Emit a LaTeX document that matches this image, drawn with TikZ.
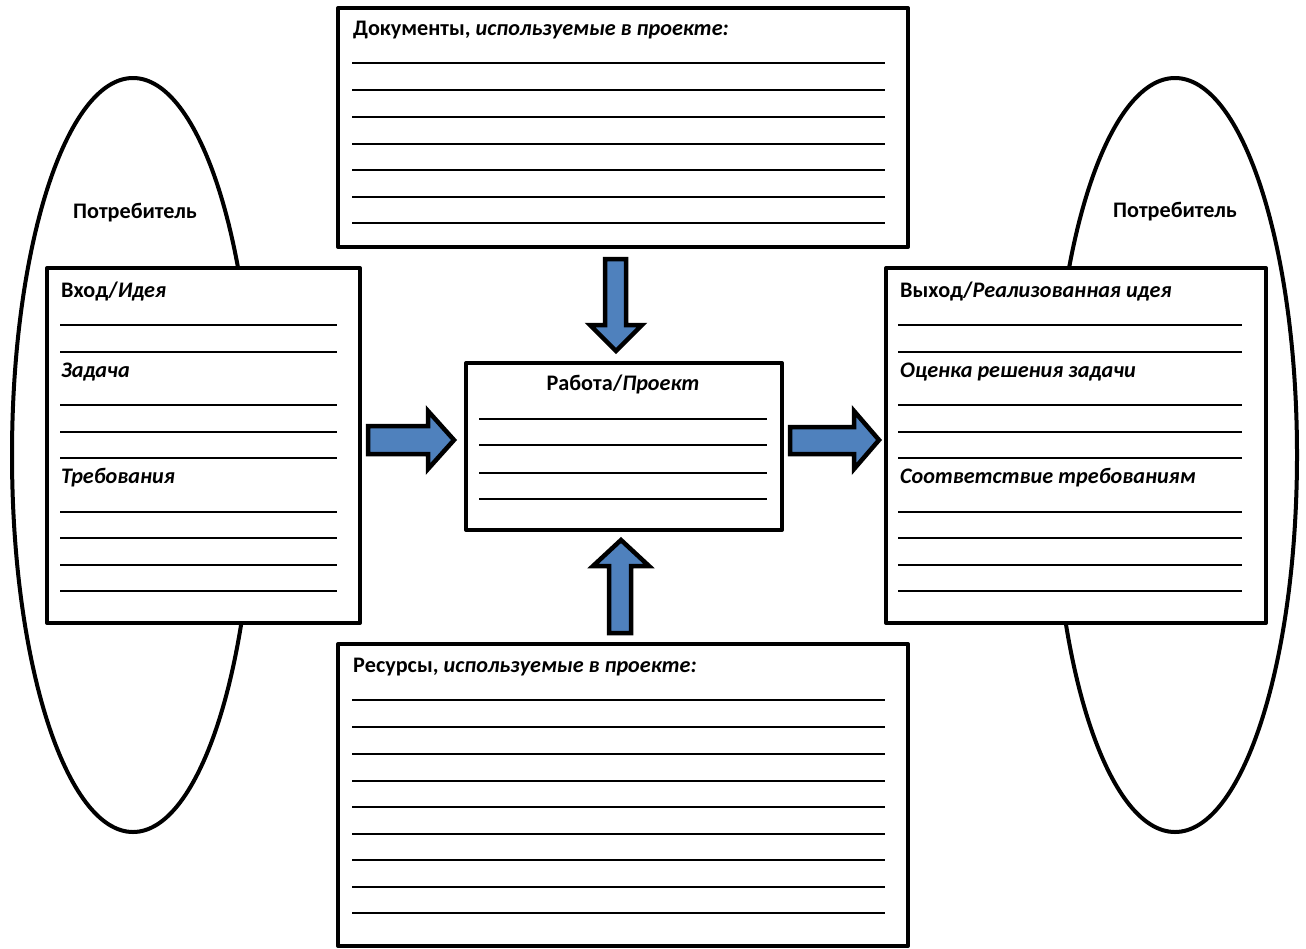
\documentclass[tikz,border=0pt]{standalone}
\usepackage{fontspec}
\setmainfont{Carlito}
\usetikzlibrary{calc}
\definecolor{arrowblue}{HTML}{4F81BD}
\begin{document}
\begin{tikzpicture}[x=1pt,y=-1pt,
  frame/.style={draw=black,line width=4pt,fill=white,line join=round},
  oval/.style={draw=black,line width=4pt,fill=white},
  rule/.style={draw=black,line width=2.5pt},
  label/.style={font=\fontsize{22.2}{26}\selectfont\bfseries,inner sep=0pt},
  blockarrow/.style={draw=black,line width=4.5pt,fill=arrowblue,line join=miter}]
\useasboundingbox (0,0) rectangle (1306,948);
% ellipses
\draw[oval] (133,455) ellipse [x radius=121, y radius=377];
\draw[oval] (1175,455) ellipse [x radius=122, y radius=377];
\node[label,anchor=base] (potL) at (135,218) {Потребитель};
\node[label,anchor=base] (potR) at (1175,217) {Потребитель};
% boxes
\draw[frame] (338,8) rectangle (908,247);
\draw[frame] (47,268) rectangle (360,623);
\draw[frame] (466,363) rectangle (782,530);
\draw[frame] (886,268) rectangle (1266,623);
\draw[frame] (338,644) rectangle (908,946);
% top box
\node[label,anchor=base west] (docT) at (353,35) {Документы, \textit{используемые в проекте:}};
\foreach \y in {63,90,117,144,170,197,223} \draw[rule] (352,\y) -- (885,\y);
% bottom box
\node[label,anchor=base west] (resT) at (353,672) {Ресурсы, \textit{используемые в проекте:}};
\foreach \y in {700,727,754,781,807,834,860,887,913} \draw[rule] (352,\y) -- (885,\y);
% left box
\node[label,anchor=base west] (inT) at (61,297) {Вход/\textit{Идея}};
\node[label,anchor=base west] (taskT) at (61,377) {\textit{Задача}};
\node[label,anchor=base west] (reqT) at (61,483) {\textit{Требования}};
\foreach \y in {325,352,405,432,458,512,538,565,591} \draw[rule] (60,\y) -- (337,\y);
% right box
\node[label,anchor=base west] (outT) at (900,297) {Выход/\textit{Реализованная идея}};
\node[label,anchor=base west] (evalT) at (900,377) {\textit{Оценка решения задачи}};
\node[label,anchor=base west] (compT) at (900,483) {\textit{Соответствие требованиям}};
\foreach \y in {325,352,405,432,458,512,538,565,591} \draw[rule] (898,\y) -- (1242,\y);
% center box
\node[label,anchor=base] (workT) at (623,390) {Работа/\textit{Проект}};
\foreach \y in {419,445,473,499} \draw[rule] (479,\y) -- (767,\y);
% block arrows
\draw[blockarrow] (605,259) -- (626,259) -- (626,325) -- (642,325) -- (616,351) -- (590,325) -- (605,325) -- cycle;
\draw[blockarrow] (609,633) -- (631,633) -- (631,566) -- (649,566) -- (621,540) -- (593,566) -- (609,566) -- cycle;
\draw[blockarrow] (368,426) -- (428,426) -- (428,411) -- (454,440) -- (428,469) -- (428,454) -- (368,454) -- cycle;
\draw[blockarrow] (790,427) -- (854,427) -- (854,411) -- (879,440) -- (854,469) -- (854,454) -- (790,454) -- cycle;
\end{tikzpicture}
\end{document}
